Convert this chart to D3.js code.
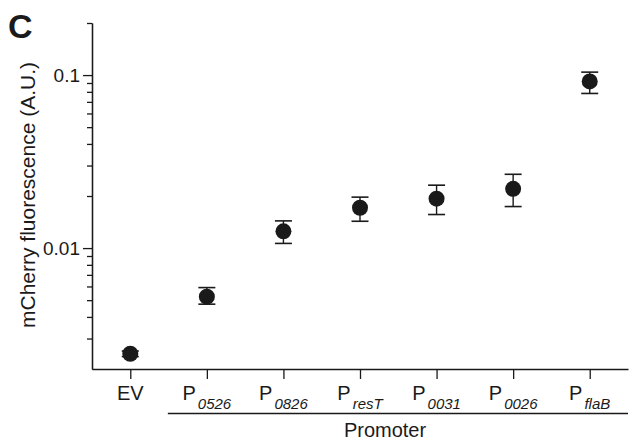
<!DOCTYPE html>
<html>
<head>
<meta charset="utf-8">
<script src="https://cdn.jsdelivr.net/npm/d3@7"></script>
<style>
body { margin: 0; background: #fff; }
text { font-family: "Liberation Sans", Arial, sans-serif; fill: #1a1a1a; }
.axis path, .axis line { stroke: #1a1a1a; stroke-width: 1.3; }
</style>
</head>
<body>
<div id="chart"></div>
<script>
var promoters = ["EV", "0526", "0826", "resT", "0031", "0026", "flaB"];
var hasP = [false, true, true, true, true, true, true];
var meanVals = [0.00245, 0.00524, 0.0125, 0.0171, 0.0193, 0.0220, 0.0919];
var lowVals  = [0.00236, 0.00474, 0.01064, 0.01429, 0.01563, 0.01738, 0.0783];
var highVals = [0.00254, 0.00591, 0.01436, 0.0197, 0.0231, 0.0267, 0.104];
var majorTicks = [0.01, 0.1];
var minorTicks = [0.003, 0.004, 0.005, 0.006, 0.007, 0.008, 0.009,
                  0.02, 0.03, 0.04, 0.05, 0.06, 0.07, 0.08, 0.09, 0.2];

(function() {

var width = 631, height = 441;
var m = {left: 92, right: 628, top: 23, bottom: 369};

var svg = d3.select("#chart").append("svg")
    .attr("width", width)
    .attr("height", height);

var x = d3.scalePoint()
    .domain(promoters)
    .range([m.left, m.right])
    .padding(0.5);

var y = d3.scaleLog()
    .domain([0.002, 0.2])
    .range([m.bottom, m.top]);

// y axis, minor ticks first then majors with labels
svg.append("g")
    .attr("class", "axis")
    .attr("transform", "translate(" + m.left + ",0)")
    .call(d3.axisLeft(y).tickValues(minorTicks).tickSize(5).tickSizeOuter(0).tickFormat(""));

var yAx = svg.append("g")
    .attr("class", "axis")
    .attr("transform", "translate(" + m.left + ",0)")
    .call(d3.axisLeft(y).tickValues(majorTicks).tickSize(9).tickSizeOuter(0)
      .tickPadding(3).tickFormat(function(d) { return d === 0.1 ? "0.1" : "0.01"; }));
yAx.selectAll("text")
    .style("font-size", "19px")
    .style("font-family", "Liberation Sans, Arial, sans-serif")
    .attr("fill", "#1a1a1a");

// x axis
svg.append("g")
    .attr("class", "axis")
    .attr("transform", "translate(0," + m.bottom + ")")
    .call(d3.axisBottom(x).tickSize(10).tickSizeOuter(0).tickFormat(""));

// x labels: P with italic subscript
promoters.forEach(function(p, i) {
  var t = svg.append("text")
      .attr("x", x(p))
      .attr("y", 400)
      .attr("text-anchor", "middle")
      .style("font-size", "20px");
  if (hasP[i]) {
    t.append("tspan").text("P");
    t.append("tspan").text(p)
      .attr("dx", 2)
      .attr("dy", 9)
      .style("font-size", "15px")
      .style("font-style", "italic");
  } else {
    t.text(p);
  }
});

// group line under promoters
svg.append("line")
    .attr("x1", x(promoters[1]) - 39)
    .attr("x2", m.right)
    .attr("y1", 413.5)
    .attr("y2", 413.5)
    .attr("stroke", "#1a1a1a")
    .attr("stroke-width", 1.4);

svg.append("text")
    .attr("x", 385)
    .attr("y", 437)
    .attr("text-anchor", "middle")
    .style("font-size", "20px")
    .text("Promoter");

// y label
svg.append("text")
    .attr("transform", "translate(35,195) rotate(-90)")
    .attr("text-anchor", "middle")
    .style("font-size", "21px")
    .text("mCherry fluorescence (A.U.)");

// panel letter
svg.append("text")
    .attr("x", 8)
    .attr("y", 38)
    .style("font-size", "34px")
    .style("font-weight", "bold")
    .text("C");

// error bars
var pts = svg.append("g");
promoters.forEach(function(p, i) {
  var cx = x(p);
  pts.append("line")
      .attr("x1", cx).attr("x2", cx)
      .attr("y1", y(lowVals[i])).attr("y2", y(highVals[i]))
      .attr("stroke", "#1a1a1a").attr("stroke-width", 1.4);
  [lowVals[i], highVals[i]].forEach(function(v) {
    pts.append("line")
        .attr("x1", cx - 8.5).attr("x2", cx + 8.5)
        .attr("y1", y(v)).attr("y2", y(v))
        .attr("stroke", "#1a1a1a").attr("stroke-width", 1.6);
  });
});

pts.selectAll("circle")
    .data(meanVals)
  .enter().append("circle")
    .attr("cx", function(d, i) { return x(promoters[i]); })
    .attr("cy", function(d) { return y(d); })
    .attr("r", 8)
    .attr("fill", "#1a1a1a");

})();
</script>
</body>
</html>
